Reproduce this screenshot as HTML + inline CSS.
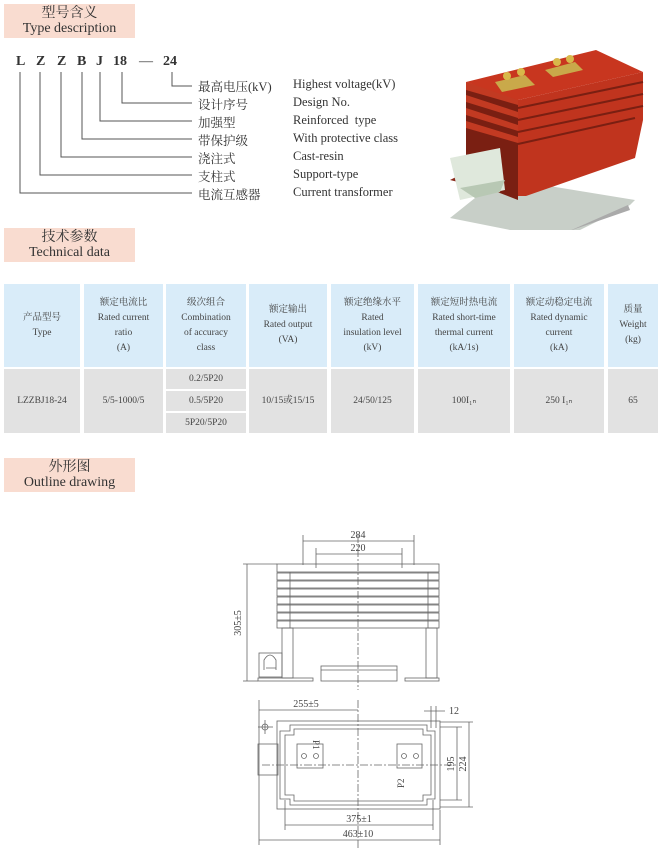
<!DOCTYPE html>
<html><head><meta charset="utf-8"><style>
body{margin:0;width:662px;height:854px;background:#fff;position:relative;overflow:hidden;font-family:"Liberation Serif","Noto Serif CJK SC",serif;color:#333}
.hd{position:absolute;left:4px;width:131px;height:34px;background:#f9dcd0;text-align:center;line-height:15px;font-size:14px;color:#333}
.hd .c{font-family:"Liberation Serif","Noto Serif CJK SC",serif;font-size:14px;padding-top:2px}
.t{position:absolute;font-size:12.5px;white-space:nowrap}
.cell{position:absolute;text-align:center;font-size:9.5px;line-height:15px;color:#444;display:flex;align-items:center;justify-content:center;flex-direction:column}
.h{background:#d9ecf9}.d{background:#e2e2e2}
</style></head><body>
<div class="hd" style="top:4px"><div class="c">型号含义</div><div>Type description</div></div>
<div class="hd" style="top:228px"><div class="c">技术参数</div><div>Technical data</div></div>
<div class="hd" style="top:458px"><div class="c">外形图</div><div>Outline drawing</div></div>

<div class="t" style="left:16px;top:54px;font-weight:bold;font-size:14px;letter-spacing:0">L</div>
<div class="t" style="left:36px;top:54px;font-weight:bold;font-size:14px">Z</div>
<div class="t" style="left:57px;top:54px;font-weight:bold;font-size:14px">Z</div>
<div class="t" style="left:77px;top:54px;font-weight:bold;font-size:14px">B</div>
<div class="t" style="left:96px;top:54px;font-weight:bold;font-size:14px">J</div>
<div class="t" style="left:113px;top:54px;font-weight:bold;font-size:14px">18</div>
<div class="t" style="left:139px;top:54px;font-size:14px">—</div>
<div class="t" style="left:163px;top:54px;font-weight:bold;font-size:14px">24</div>
<svg style="position:absolute;left:0;top:0" width="662" height="854">
<g stroke="#555" stroke-width="1" fill="none">
<path d="M172 72V86H192M122 72V103H192M100 72V121H192M82 72V139H192M61 72V157H192M40 72V175H192M20 72V193H192"/>
</g>
</svg>
<div class="t" style="left:198px;top:77px">最高电压(kV)</div><div class="t" style="left:293px;top:77px">Highest voltage(kV)</div>
<div class="t" style="left:198px;top:95px">设计序号</div><div class="t" style="left:293px;top:95px">Design No.</div>
<div class="t" style="left:198px;top:113px">加强型</div><div class="t" style="left:293px;top:113px">Reinforced&nbsp; type</div>
<div class="t" style="left:198px;top:131px">带保护级</div><div class="t" style="left:293px;top:131px">With protective class</div>
<div class="t" style="left:198px;top:149px">浇注式</div><div class="t" style="left:293px;top:149px">Cast-resin</div>
<div class="t" style="left:198px;top:167px">支柱式</div><div class="t" style="left:293px;top:167px">Support-type</div>
<div class="t" style="left:198px;top:185px">电流互感器</div><div class="t" style="left:293px;top:185px">Current transformer</div>

<!-- photo -->
<svg style="position:absolute;left:430px;top:40px" width="232" height="190">
<polygon points="20,178 130,200 200,165 205,160 70,138" fill="#c8cfc8"/>
<polygon points="85,215 90,208 200,170 198,165" fill="#aaa"/>
<polygon points="40,130 95,108 95,140 68,152 20,140" fill="#8a2a1a"/>
<polygon points="36,42 88,60 88,160 36,140" fill="#7a1f12"/>
<g fill="#c23a22"><polygon points="36,42 88,58 88,65 36,50"/><polygon points="36,55 88,72 88,78 36,62"/><polygon points="36,68 88,85 88,91 36,75"/><polygon points="36,81 88,97 88,103 36,88"/></g>
<polygon points="36,42 166,10 213,32 88,60" fill="#c8361f"/>
<polygon points="88,60 213,32 213,80 205,118 96,156 88,156" fill="#c0341e"/>
<g stroke="#7a1f12" stroke-width="2"><line x1="88" y1="68" x2="213" y2="42"/><line x1="88" y1="80" x2="213" y2="54"/><line x1="88" y1="92" x2="213" y2="66"/><line x1="88" y1="104" x2="205" y2="78"/></g>
<polygon points="20,118 70,108 75,150 30,160" fill="#dfe8dc"/>
<polygon points="30,148 75,140 70,152 45,158" fill="#b8c8b4"/>
<polygon points="65,42 95,35 105,45 72,52" fill="#c9a94a"/><circle cx="77" cy="36" r="4" fill="#d8b84a"/><circle cx="91" cy="32" r="4" fill="#d8b84a"/>
<polygon points="115,30 145,22 153,30 123,37" fill="#c9a94a"/><circle cx="127" cy="22" r="4" fill="#d8b84a"/><circle cx="140" cy="19" r="4" fill="#d8b84a"/>
</svg>

<!-- table -->
<div class="cell h" style="left:4px;top:284px;width:76px;height:83px">产品型号<br>Type</div>
<div class="cell h" style="left:84px;top:284px;width:79px;height:83px">额定电流比<br>Rated current<br>ratio<br>(A)</div>
<div class="cell h" style="left:166px;top:284px;width:80px;height:83px">级次组合<br>Combination<br>of accuracy<br>class</div>
<div class="cell h" style="left:249px;top:284px;width:78px;height:83px">额定输出<br>Rated output<br>(VA)</div>
<div class="cell h" style="left:331px;top:284px;width:83px;height:83px">额定绝缘水平<br>Rated<br>insulation level<br>(kV)</div>
<div class="cell h" style="left:418px;top:284px;width:92px;height:83px">额定短时热电流<br>Rated short-time<br>thermal current<br>(kA/1s)</div>
<div class="cell h" style="left:514px;top:284px;width:90px;height:83px">额定动稳定电流<br>Rated dynamic<br>current<br>(kA)</div>
<div class="cell h" style="left:608px;top:284px;width:50px;height:83px">质量<br>Weight<br>(kg)</div>
<div class="cell d" style="left:4px;top:369px;width:76px;height:64px">LZZBJ18-24</div>
<div class="cell d" style="left:84px;top:369px;width:79px;height:64px">5/5-1000/5</div>
<div class="cell d" style="left:166px;top:369px;width:80px;height:20px">0.2/5P20</div>
<div class="cell d" style="left:166px;top:391px;width:80px;height:20px">0.5/5P20</div>
<div class="cell d" style="left:166px;top:413px;width:80px;height:20px">5P20/5P20</div>
<div class="cell d" style="left:249px;top:369px;width:78px;height:64px">10/15或15/15</div>
<div class="cell d" style="left:331px;top:369px;width:83px;height:64px">24/50/125</div>
<div class="cell d" style="left:418px;top:369px;width:92px;height:64px">100I₁ₙ</div>
<div class="cell d" style="left:514px;top:369px;width:90px;height:64px">250 I₁ₙ</div>
<div class="cell d" style="left:608px;top:369px;width:50px;height:64px">65</div>

<!-- drawing -->
<svg style="position:absolute;left:0;top:0" width="662" height="854" font-family="Liberation Serif" font-size="10" fill="#444">
<g stroke="#666" stroke-width="0.8" fill="none">
<line x1="358" y1="535" x2="358" y2="690" stroke-dasharray="8,2,2,2"/>
<line x1="358" y1="700" x2="358" y2="850" stroke-dasharray="8,2,2,2"/>
<!-- dims top -->
<line x1="303" y1="541" x2="414" y2="541"/><line x1="303" y1="535" x2="303" y2="565"/><line x1="414" y1="535" x2="414" y2="565"/>
<line x1="316" y1="554" x2="402" y2="554"/><line x1="316" y1="548" x2="316" y2="568"/><line x1="402" y1="548" x2="402" y2="568"/>
<line x1="247" y1="564" x2="247" y2="681"/><line x1="243" y1="564" x2="277" y2="564"/><line x1="243" y1="681" x2="258" y2="681"/>
<!-- fins -->
<rect x="277" y="564" width="162" height="8"/>
<rect x="277" y="573" width="162" height="7"/><rect x="277" y="581" width="162" height="7"/><rect x="277" y="589" width="162" height="7"/><rect x="277" y="597" width="162" height="7"/><rect x="277" y="605" width="162" height="7"/><rect x="277" y="613" width="162" height="7"/><rect x="277" y="621" width="162" height="7"/>
<line x1="290" y1="572" x2="290" y2="628"/><line x1="428" y1="572" x2="428" y2="628"/>
<rect x="282" y="628" width="11" height="50"/><rect x="426" y="628" width="11" height="50"/>
<rect x="258" y="678" width="55" height="3"/><rect x="405" y="678" width="34" height="3"/>
<rect x="321" y="666" width="76" height="15"/><line x1="321" y1="670" x2="397" y2="670"/>
<rect x="259" y="653" width="23" height="24"/>
<path d="M264 670V660Q270 650 276 660V670M266 668H276"/>
<!-- bottom view -->
<rect x="277" y="721" width="163" height="88"/>
<path d="M285 735H294V729H423V735H431V795H423V801H294V795H285Z"/>
<path d="M280 731H290V725H427V731H435V799H427V805H290V799H280Z"/>
<rect x="258" y="744" width="20" height="31"/>
<rect x="297" y="744" width="26" height="24"/><rect x="397" y="744" width="25" height="24"/>
<circle cx="304" cy="756" r="2.5"/><circle cx="316" cy="756" r="2.5"/><circle cx="404" cy="756" r="2.5"/><circle cx="416" cy="756" r="2.5"/>
<circle cx="265" cy="727" r="3"/><line x1="258" y1="727" x2="273" y2="727"/><line x1="265" y1="720" x2="265" y2="734"/>
<line x1="262" y1="765" x2="456" y2="765" stroke-dasharray="8,2,2,2"/>
<line x1="259" y1="710" x2="358" y2="710"/><line x1="259" y1="700" x2="259" y2="845"/>
<line x1="424" y1="711" x2="445" y2="711"/><line x1="431" y1="706" x2="431" y2="728"/><line x1="436" y1="706" x2="436" y2="728"/>
<line x1="457" y1="727" x2="457" y2="800"/><line x1="440" y1="727" x2="462" y2="727"/><line x1="440" y1="800" x2="462" y2="800"/>
<line x1="469" y1="722" x2="469" y2="807"/><line x1="440" y1="722" x2="473" y2="722"/><line x1="440" y1="807" x2="473" y2="807"/>
<line x1="285" y1="825" x2="433" y2="825"/><line x1="285" y1="800" x2="285" y2="830"/><line x1="433" y1="800" x2="433" y2="830"/>
<line x1="259" y1="840" x2="440" y2="840"/><line x1="440" y1="810" x2="440" y2="845"/>
</g>
<text x="358" y="538" text-anchor="middle">284</text>
<text x="358" y="551" text-anchor="middle">220</text>
<text x="241" y="623" text-anchor="middle" transform="rotate(-90 241 623)">305±5</text>
<text x="306" y="707" text-anchor="middle">255±5</text>
<text x="449" y="714">12</text>
<text x="454" y="764" text-anchor="middle" transform="rotate(-90 454 764)">195</text>
<text x="466" y="764" text-anchor="middle" transform="rotate(-90 466 764)">224</text>
<text x="359" y="822" text-anchor="middle">375±1</text>
<text x="358" y="837" text-anchor="middle">463±10</text>
<text x="313" y="740" transform="rotate(90 313 740)" font-size="9">P1</text>
<text x="404" y="788" transform="rotate(-90 404 788)" font-size="9">P2</text>
</svg>
</body></html>
